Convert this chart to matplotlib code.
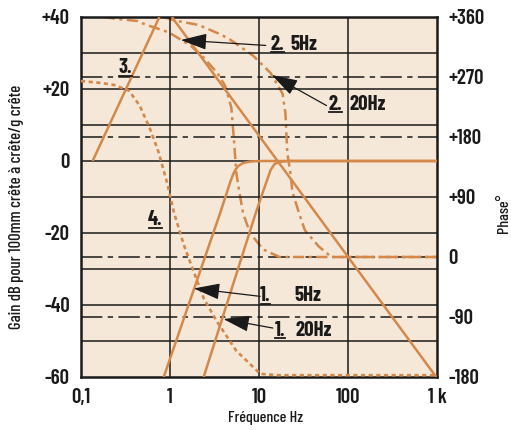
import matplotlib
matplotlib.use('Agg')
import matplotlib.pyplot as plt
from matplotlib.lines import Line2D

plt.rcParams['font.family'] = ['Barlow Condensed', 'DejaVu Sans']

ORANGE = '#D4884A'
BG = '#F5E8D8'
INK = '#1a1a1a'

# ---------------- data ----------------
# curve 3 (gain, solid)
c3_f = [0.135, 0.76]
c3_db = [0, 40]
# curve 1, 5 Hz (gain, solid)
g5_f = [0.85, 3.69, 4.76, 5.14, 5.41, 5.84, 6.64, 7.94, 10.3, 1000]
g5_db = [-60, -14.2, -5.8, -3.6, -2.5, -1.4, -0.55, -0.15, 0, 0]
# curve 1, 20 Hz (gain, solid)
g20_f = [2.39, 9.26, 11.07, 12.57, 13.5, 15.0, 17.0, 20.8, 1000]
g20_db = [-60, -14.2, -8.6, -4.7, -2.5, -0.8, -0.3, 0, 0]
# falling straight line (solid)
sl_f = [1.05, 980]
sl_db = [40, -60]
# curve 4 (dotted)
c4_f = [0.1, 0.167, 0.238, 0.347, 0.456, 0.597, 0.743, 0.922, 1.11, 1.43,
        1.85, 2.39, 3.33, 5.55, 10.3, 16.2, 1000]
c4_db = [22.2, 21.7, 21.1, 19.5, 15.4, 8.9, 2.5, -5.8, -14.4, -23.3,
         -30.8, -38.1, -44.4, -52.7, -59.1, -59.5, -59.5]
# curve 2, 5 Hz (phase, deg)
p5_f = [0.18, 0.258, 0.432, 0.522, 0.97, 1.32, 1.71, 2.39, 3.41, 4.19, 4.89,
        5.27, 5.55, 6.0, 6.64, 7.94, 11.07, 17.0, 1000]
p5_deg = [360, 357, 354, 349, 337, 326, 317, 299, 276, 256, 224,
          170, 127, 98, 65, 36, 11.5, 0, 0]
# curve 2, 20 Hz (phase, deg)
p20_f = [0.85, 1.11, 2.10, 3.69, 4.76, 8.58, 13.5, 18.4, 19.8, 20.8, 22.5,
         23.7, 28.3, 32.8, 46.8, 65, 1000]
p20_deg = [360, 355, 348, 334, 326, 302, 276, 245, 216, 156, 127,
           98, 65, 40, 16, 0, 0]

x_ticks = [0.1, 1, 10, 100, 1000]
x_labels = ['0,1', '1', '10', '100', '1 k']
db_ticks = [40, 20, 0, -20, -40, -60]
db_labels = ['+40', '+20', '0', '-20', '-40', '-60']
ph_ticks = [360, 270, 180, 90, 0, -90, -180]
ph_labels = ['+360', '+270', '+180', '+90', '0', '-90', '-180']
ph_ref = [270, 180, 0, -90]

# ---------------- figure ----------------
fig = plt.figure(figsize=(5.11, 4.30), dpi=100)
rect = [81/511, 1-377/430, (437-81)/511, (377-17)/430]
ax2 = fig.add_axes(rect)          # phase axis (drawn below)
ax = fig.add_axes(rect)           # gain axis (drawn on top)
ax.patch.set_visible(False)
ax2.set_facecolor(BG)

ax.set_xscale('log')
ax2.set_xscale('log')
ax.set_xlim(0.1, 1000)
ax2.set_xlim(0.1, 1000)
ax.set_ylim(-60, 40)
ax2.set_ylim(-180, 360)

ax2.yaxis.tick_right()
ax2.yaxis.set_label_position('right')
ax2.xaxis.set_visible(False)

tfont = dict(fontsize=15, fontweight=600, color=INK)
ax.set_xticks(x_ticks)
ax.set_xticklabels(x_labels, **tfont)
ax.set_xticks([], minor=True)
ax.set_yticks(db_ticks)
ax.set_yticklabels(db_labels, **tfont)
ax2.set_yticks(ph_ticks)
ax2.set_yticklabels(ph_labels, **tfont)
ax.tick_params(axis='both', length=0)
ax.tick_params(axis='y', pad=8)
ax.tick_params(axis='x', pad=8)
ax2.tick_params(axis='y', length=0, pad=8)

for s in ax.spines.values():
    s.set_linewidth(1.8)
    s.set_color(INK)
for s in ax2.spines.values():
    s.set_visible(False)

# grid
for v in [1, 10, 100]:
    ax.axvline(v, color=INK, lw=1.1, zorder=1)
for v in range(-50, 40, 10):
    ax.axhline(v, color=INK, lw=1.1, zorder=1)
for v in ph_ref:
    l = ax2.axhline(v, color=INK, lw=1.1, zorder=1)
    l.set_dashes([14, 3.5, 3.5, 3.5])

# gain curves
kw = dict(color=ORANGE, lw=1.8, zorder=3, solid_capstyle='butt')
ax.plot(c3_f, c3_db, **kw)
ax.plot(g5_f, g5_db, **kw)
ax.plot(g20_f, g20_db, **kw)
ax.plot(sl_f, sl_db, **kw)
l4, = ax.plot(c4_f, c4_db, color=ORANGE, lw=1.9, zorder=3)
l4.set_dashes([1.6, 1.3])

# phase curves
for f, d in [(p5_f, p5_deg), (p20_f, p20_deg)]:
    lp, = ax2.plot(f, d, color=ORANGE, lw=1.8, zorder=3)
    lp.set_dashes([4.5, 1.8, 1.2, 1.8])

# labels
ax.set_xlabel('Fréquence Hz', fontsize=11.5, fontweight=500, color=INK)
ax.xaxis.set_label_coords((266-81)/356, -(411-377)/360)
fig.text(17/511, 1-207/430, 'Gain dB pour 100mm crête à crête/g crête',
         rotation=90, va='center', ha='center', fontsize=12, fontweight=500,
         color=INK)
fig.text(504/511, 1-213/430, 'Phase°', rotation=90, va='center',
         ha='center', fontsize=11.5, fontweight=500, color=INK)

# annotations
afont = dict(fontsize=15, fontweight='bold', color=INK, va='baseline',
             ha='left', zorder=6)
fig.canvas.draw()
inv = fig.transFigure.inverted()


def num_label(fx, dby, num, rest=None, rest_fx=None):
    t = ax.text(fx, dby, num, **afont)
    fig.canvas.draw()
    bb = t.get_window_extent()
    base = ax.transData.transform((fx, dby))[1]
    p0 = inv.transform((bb.x0 + 0.5, base - 2.5))
    p1 = inv.transform((bb.x1 - 0.5, base - 2.5))
    fig.add_artist(Line2D([p0[0], p1[0]], [p0[1], p1[1]], color=INK,
                          lw=1.3, transform=fig.transFigure))
    if rest is not None:
        ax.text(rest_fx, dby, rest, **afont)


num_label(0.265, 24.4, '3.')
num_label(0.566, -17.8, '4.')
num_label(13.5, 30.9, '2.', '5Hz', 22.5)
num_label(60.3, 14.3, '2.', '20Hz', 105)
num_label(10.3, -38.9, '1.', '5Hz', 24.9)
num_label(15.0, -48.6, '1.', '20Hz', 25.4)

aprops = dict(arrowstyle='-|>,head_length=0.9,head_width=0.28',
              mutation_scale=18, color=INK, lw=0.9, shrinkA=0, shrinkB=0)
arrows = [((11.9, 32.1), (1.32, 33.6)),
          ((57.3, 15.4), (13.9, 23.9)),
          ((10.3, -37.6), (1.85, -35.4)),
          ((14.3, -46.4), (3.98, -43.9))]
for start, tip in arrows:
    ax.annotate('', xy=tip, xytext=start, arrowprops=aprops, zorder=6)

fig.savefig('out.png', dpi=100, facecolor='white')
